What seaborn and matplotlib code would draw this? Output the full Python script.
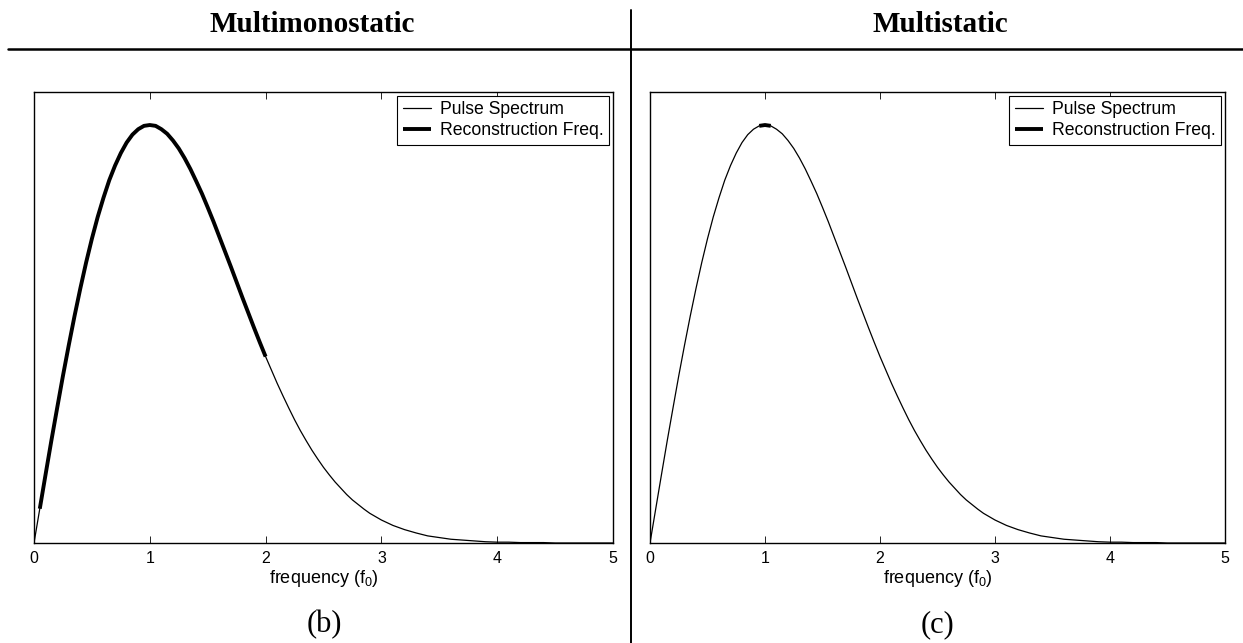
import numpy as np
import pandas as pd
import matplotlib
matplotlib.use("Agg")
import matplotlib.pyplot as plt
from matplotlib.lines import Line2D
import seaborn as sns

# ---- data (normalized amplitude, peak = 1 at f0) ----
freq = [0.00, 0.05, 0.10, 0.15, 0.20, 0.25, 0.30, 0.35, 0.40, 0.45,
        0.50, 0.55, 0.60, 0.65, 0.70, 0.75, 0.80, 0.85, 0.90, 0.95,
        1.00, 1.05, 1.10, 1.15, 1.20, 1.25, 1.30, 1.35, 1.40, 1.45,
        1.50, 1.55, 1.60, 1.65, 1.70, 1.75, 1.80, 1.85, 1.90, 1.95,
        2.00, 2.05, 2.10, 2.15, 2.20, 2.25, 2.30, 2.35, 2.40, 2.45,
        2.50, 2.55, 2.60, 2.65, 2.70, 2.75, 2.80, 2.85, 2.90, 2.95,
        3.00, 3.10, 3.20, 3.30, 3.40, 3.50, 3.60, 3.70, 3.80, 3.90,
        4.00, 4.10, 4.20, 4.30, 4.40, 4.50, 4.60, 4.70, 4.80, 4.90, 5.00]
spectrum = [0.000, 0.082, 0.164, 0.245, 0.323, 0.400, 0.473, 0.543, 0.609, 0.671,
            0.728, 0.780, 0.826, 0.868, 0.903, 0.933, 0.958, 0.977, 0.990, 0.998,
            1.000, 0.998, 0.990, 0.979, 0.963, 0.944, 0.921, 0.895, 0.866, 0.836,
            0.803, 0.769, 0.733, 0.697, 0.661, 0.624, 0.587, 0.551, 0.515, 0.480,
            0.446, 0.414, 0.382, 0.352, 0.323, 0.295, 0.269, 0.245, 0.222, 0.201,
            0.181, 0.163, 0.146, 0.131, 0.116, 0.103, 0.092, 0.081, 0.071, 0.063,
            0.055, 0.042, 0.032, 0.024, 0.017, 0.013, 0.009, 0.007, 0.005, 0.003,
            0.002, 0.002, 0.001, 0.001, 0.001, 0.000, 0.000, 0.000, 0.000, 0.000, 0.000]

panel_titles = ["Multimonostatic", "Multistatic"]
panel_tags = ["(b)", "(c)"]
recon_low = [0.05, 0.95]
recon_high = [2.00, 1.05]
xticks = [0, 1, 2, 3, 4, 5]
legend_labels = ["Pulse Spectrum", "Reconstruction Freq."]

df = pd.DataFrame({"freq": freq, "amp": spectrum})

sns.set_style("white")
plt.rcParams["font.family"] = ["Liberation Sans", "DejaVu Sans"]
plt.rcParams["mathtext.fontset"] = "custom"
plt.rcParams["mathtext.rm"] = "Liberation Sans"
plt.rcParams["mathtext.it"] = "Liberation Sans"
plt.rcParams["mathtext.default"] = "regular"
plt.rcParams["text.color"] = "black"
plt.rcParams["axes.labelcolor"] = "black"
plt.rcParams["xtick.color"] = "black"

W, H = 1243, 643
fig = plt.figure(figsize=(W / 100, H / 100), dpi=100)

axes_px = [(34, 613), (650, 1225)]
top_px, bot_px = 92, 543
title_cx = [312, 940]
tag_cx = [324, 938]

for i, (x0, x1) in enumerate(axes_px):
    ax = fig.add_axes([x0 / W, 1 - bot_px / H, (x1 - x0) / W, (bot_px - top_px) / H])
    sns.lineplot(data=df, x="freq", y="amp", ax=ax, color="black", lw=0.9,
                 label=legend_labels[0])
    sub = df[(df["freq"] >= recon_low[i] - 1e-9) & (df["freq"] <= recon_high[i] + 1e-9)]
    sns.lineplot(data=sub, x="freq", y="amp", ax=ax, color="black", lw=2.8,
                 label=legend_labels[1], solid_capstyle="butt")
    ax.set_xlim(0, 5)
    ax.set_ylim(0, 1.079)
    ax.set_xticks(xticks)
    ax.set_xticklabels([str(t) for t in xticks], fontsize=11.5, color="black")
    ax.set_yticks([])
    ax.set_ylabel("")
    ax.set_xlabel("frequency (f$_0$)", fontsize=13, labelpad=1, color="black")
    ax.tick_params(axis="x", direction="in", length=5, width=0.6, top=True,
                   bottom=True, pad=6, colors="black")
    for s in ax.spines.values():
        s.set_visible(True)
        s.set_color("black")
        s.set_linewidth(1.0)
    leg = ax.legend(loc="upper right", fontsize=12.7, frameon=True, fancybox=False,
                    edgecolor="black", framealpha=1, borderaxespad=0.2,
                    handlelength=1.6, handletextpad=0.55, borderpad=0.3,
                    labelspacing=0.25)
    leg.get_frame().set_linewidth(0.8)
    for t in leg.get_texts():
        t.set_color("black")

    fig.text(title_cx[i] / W, 1 - 24 / H, panel_titles[i], ha="center", va="center",
             fontsize=21, fontweight="bold", family="Liberation Serif", color="black")
    fig.text(tag_cx[i] / W, 1 - 625 / H, panel_tags[i], ha="center",
             va="center", fontsize=22, family="Liberation Serif", color="black")

# separators
fig.add_artist(Line2D([8 / W, 1.0], [1 - 49 / H, 1 - 49 / H], color="black", lw=1.8,
                      transform=fig.transFigure))
fig.add_artist(Line2D([631 / W, 631 / W], [1 - 10 / H, 0.0], color="black", lw=1.4,
                      transform=fig.transFigure))

fig.savefig("out.png", dpi=100, facecolor="white")
